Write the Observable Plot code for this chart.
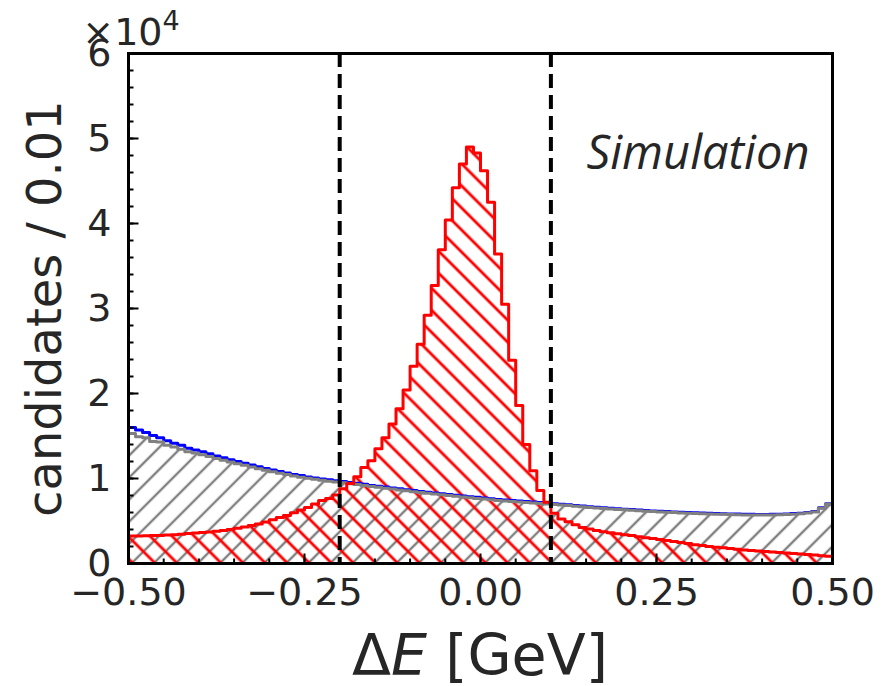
<!DOCTYPE html>
<html>
<head>
<meta charset="utf-8">
<script src="https://cdn.jsdelivr.net/npm/d3@7"></script>
<script src="https://cdn.jsdelivr.net/npm/@observablehq/plot@0.6"></script>
<style>
  body { margin: 0; background: #fff; }
  #chart svg { display: block; }
</style>
</head>
<body>
<svg width="0" height="0" style="position:absolute">
  <defs>
    <pattern id="hatchGray" patternUnits="userSpaceOnUse" width="15.6" height="15.6" patternTransform="rotate(45)">
      <line x1="7.8" y1="-2" x2="7.8" y2="17.6" stroke="#808080" stroke-width="2.4"/>
    </pattern>
    <pattern id="hatchRed" patternUnits="userSpaceOnUse" width="15.6" height="15.6" patternTransform="rotate(-45)">
      <line x1="7.8" y1="-2" x2="7.8" y2="17.6" stroke="#ff0000" stroke-width="2.8"/>
    </pattern>
  </defs>
</svg>
<div id="chart"></div>
<script>
// ---- data (100 bins of width 0.01 from -0.5 to 0.5) ----
const binEdges = d3.range(101).map(i => -0.5 + i * 0.01);

const signal = [
  3250, 3240, 3270, 3280, 3300, 3340, 3390, 3450, 3520, 3580,
  3650, 3720, 3800, 3890, 4000, 4150, 4300, 4460, 4650, 4880,
  5150, 5400, 5650, 5980, 6300, 6600, 7000, 7400, 7650, 8050,
  8800, 9400, 10200, 11300, 12100, 13500, 14800, 16400, 18200, 20400,
  23200, 25800, 29200, 32700, 36900, 40400, 44200, 47000, 49000, 48300,
  46200, 42500, 36400, 30500, 23900, 18600, 14000, 10900, 8600, 7200,
  5900, 5250, 4900, 4550, 4250, 4050, 3880, 3740, 3610, 3500,
  3390, 3280, 3160, 3040, 2930, 2820, 2700, 2580, 2460, 2340,
  2220, 2110, 2010, 1920, 1840, 1760, 1680, 1600, 1530, 1470,
  1410, 1350, 1290, 1230, 1170, 1110, 1050, 990, 920, 850
];

const background = [
  15300, 14900, 14800, 14350, 14300, 13900, 13700, 13450, 13150, 13000,
  12800, 12600, 12350, 12150, 11950, 11750, 11550, 11350, 11150, 10980,
  10800, 10620, 10460, 10300, 10160, 10020, 9900, 9790, 9680, 9590,
  9500, 9390, 9290, 9180, 9060, 8960, 8860, 8760, 8660, 8560,
  8450, 8350, 8260, 8170, 8080, 7990, 7900, 7820, 7740, 7660,
  7580, 7500, 7420, 7360, 7300, 7240, 7180, 7120, 7060, 7000,
  6950, 6880, 6810, 6740, 6670, 6600, 6540, 6480, 6420, 6360,
  6310, 6260, 6210, 6160, 6110, 6070, 6030, 5990, 5950, 5920,
  5890, 5860, 5830, 5800, 5780, 5760, 5740, 5720, 5710, 5700,
  5700, 5710, 5730, 5760, 5800, 5850, 5930, 6050, 6500, 7000
];

const total = [
  16000, 15700, 15400, 15050, 14800, 14450, 14150, 13900, 13550, 13350,
  13150, 12900, 12650, 12430, 12210, 12000, 11790, 11580, 11370, 11190,
  11000, 10810, 10650, 10480, 10340, 10190, 10070, 9950, 9840, 9740,
  9650, 9530, 9430, 9310, 9190, 9090, 8990, 8890, 8790, 8690,
  8580, 8480, 8390, 8300, 8200, 8110, 8020, 7940, 7860, 7780,
  7700, 7620, 7540, 7470, 7410, 7350, 7290, 7230, 7170, 7100,
  7040, 6970, 6900, 6830, 6760, 6690, 6630, 6570, 6510, 6450,
  6390, 6340, 6290, 6240, 6190, 6150, 6110, 6070, 6030, 5990,
  5960, 5930, 5900, 5870, 5850, 5830, 5810, 5790, 5780, 5770,
  5770, 5780, 5800, 5830, 5870, 5920, 6000, 6110, 6550, 7040
];

const cutLines = [-0.2, 0.1];
const xMajorTicks = [-0.5, -0.25, 0, 0.25, 0.5];
const xMinorTicks = d3.range(21).map(i => -0.5 + i * 0.05);
const yMajorTicks = [0, 10000, 20000, 30000, 40000, 50000, 60000];
const yMinorTicks = d3.range(31).map(i => i * 2000);
const xLabelParts = ["\u0394", "E", " [GeV]"];
const yLabel = "candidates / 0.01";
const offsetLabel = ["\u00d710", "4"];
const simLabel = "Simulation";

// step rows: one per bin left edge, plus closing edge
const rows = binEdges.map((x, i) => {
  const j = Math.min(i, 99);
  return {x, signal: signal[j], background: background[j], total: total[j]};
});

// ---- layout ----
const W = 884, H = 686;
const mL = 128, mR = 52, mT = 53, mB = 123;
const textColor = "#262626";

const tickSym = (dx, dy) => ({draw(ctx) { ctx.moveTo(0, 0); ctx.lineTo(dx, dy); }});

const chart = Plot.plot({
  width: W,
  height: H,
  marginLeft: mL,
  marginRight: mR,
  marginTop: mT,
  marginBottom: mB,
  style: {fontFamily: "DejaVu Sans", color: textColor, background: "white"},
  x: {domain: [-0.5, 0.5]},
  y: {domain: [0, 60000]},
  marks: [
    Plot.areaY(rows, {x: "x", y: "background", curve: "step-after", fill: "url(#hatchGray)"}),
    Plot.areaY(rows, {x: "x", y: "signal", curve: "step-after", fill: "url(#hatchRed)"}),
    Plot.lineY(rows, {x: "x", y: "total", curve: "step-after", stroke: "#0000ff", strokeWidth: 3}),
    Plot.lineY(rows, {x: "x", y: "background", curve: "step-after", stroke: "#808080", strokeWidth: 3}),
    Plot.lineY(rows, {x: "x", y: "signal", curve: "step-after", stroke: "#ff0000", strokeWidth: 3}),
    Plot.ruleX(cutLines, {stroke: "black", strokeWidth: 4, strokeDasharray: "14,7"}),
    Plot.axisX({ticks: xMajorTicks, tickFormat: d3.format(".2f"), tickSize: 0, tickPadding: 15, fontSize: 38, label: null}),
    Plot.axisY({ticks: yMajorTicks, tickFormat: d => String(d / 1e4), tickSize: 0, tickPadding: 17, fontSize: 38, label: null}),
    Plot.dot(yMinorTicks, {x: -0.5, y: d => d, symbol: tickSym(5, 0), stroke: "black", strokeWidth: 2, fill: "none"}),
    Plot.dot(yMajorTicks, {x: -0.5, y: d => d, symbol: tickSym(10, 0), stroke: "black", strokeWidth: 2, fill: "none"}),
    Plot.dot(xMinorTicks, {x: d => d, y: 0, symbol: tickSym(0, -5), stroke: "black", strokeWidth: 2, fill: "none"}),
    Plot.dot(xMajorTicks, {x: d => d, y: 0, symbol: tickSym(0, -10), stroke: "black", strokeWidth: 2, fill: "none"}),
    Plot.text([yLabel], {text: d => d, frameAnchor: "left", rotate: -90, dx: -68, textAnchor: "middle", lineAnchor: "bottom", fontSize: 48}),
    Plot.text([simLabel], {text: d => d, frameAnchor: "top-right", dx: -23, dy: 115, lineAnchor: "bottom", fontSize: 47, fontStyle: "italic", fontFamily: "Open Sans"}),
    Plot.frame({stroke: "black", strokeWidth: 3})
  ]
});

document.getElementById("chart").appendChild(chart);

// x-axis label with italic E
const svg = d3.select(chart);
const xl = svg.append("text")
  .attr("x", mL + (W - mL - mR) / 2)
  .attr("y", H - 11)
  .attr("text-anchor", "middle")
  .attr("font-family", "DejaVu Sans")
  .attr("font-size", 57)
  .attr("fill", textColor)
  .style("white-space", "pre");
xl.append("tspan").text(xLabelParts[0]);
xl.append("tspan").attr("font-style", "italic").text(xLabelParts[1]);
xl.append("tspan").text(xLabelParts[2]);

// offset text ×10^4
const ot = svg.append("text")
  .attr("x", mL + 3)
  .attr("y", 45)
  .attr("font-family", "DejaVu Sans")
  .attr("font-size", 38)
  .attr("fill", textColor);
ot.append("tspan").text(offsetLabel[0]);
ot.append("tspan").attr("font-size", 27).attr("dy", -15).text(offsetLabel[1]);
</script>
</body>
</html>
